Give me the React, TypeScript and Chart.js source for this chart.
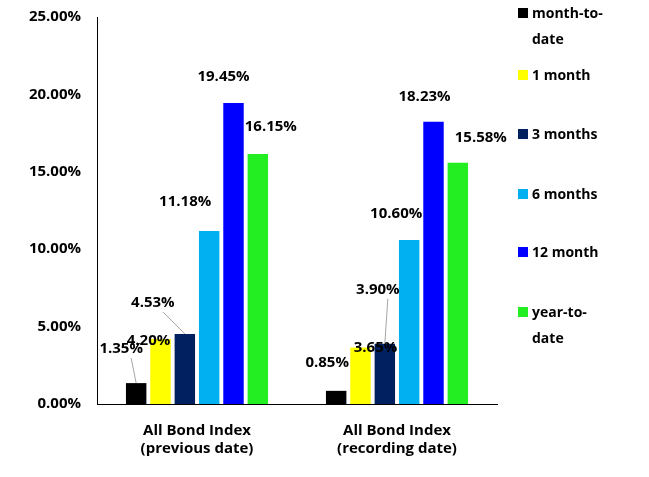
import { useEffect, useRef } from "react";
import { Chart, registerables } from "chart.js";

Chart.register(...registerables);

const categories = [
  ["All Bond Index", "(previous date)"],
  ["All Bond Index", "(recording date)"],
];
const seriesNames = ["month-to-date", "1 month", "3 months", "6 months", "12 month", "year-to-date"];
const seriesLegend = [["month-to-", "date"], ["1 month"], ["3 months"], ["6 months"], ["12 month"], ["year-to-", "date"]];
const seriesValues = [
  [1.35, 0.85],
  [4.2, 3.65],
  [4.53, 3.9],
  [11.18, 10.6],
  [19.45, 18.23],
  [16.15, 15.58],
];
const colors = ["#000000", "#ffff00", "#002060", "#00b0f0", "#0000ff", "#22ee22"];
const legendTops = [0, 62, 121, 181, 239, 299];

// label offsets from bar top centre [dx, dy, leader]
const labelOffsets: [number, number, boolean][][] = [
  [[-15, -34, true], [-9, -28, false]],
  [[-12, 2, false], [15, 0, false]],
  [[-32, -31, true], [-7, -54, true]],
  [[-24, -29, false], [-13, -26, false]],
  [[-10, -26, false], [-9, -25, false]],
  [[13, -27, false], [23, -25, false]],
];

const FONT = "'Open Sans', sans-serif";

const labelPlugin = {
  id: "barLabels",
  afterDatasetsDraw(chart: any) {
    const ctx = chart.ctx;
    ctx.save();
    ctx.font = `bold 15px ${FONT}`;
    ctx.textAlign = "center";
    ctx.textBaseline = "middle";
    chart.data.datasets.forEach((ds: any, i: number) => {
      chart.getDatasetMeta(i).data.forEach((bar: any, j: number) => {
        const [dx, dy, leader] = labelOffsets[i][j];
        const x = bar.x + dx;
        const y = bar.y + dy;
        if (leader) {
          ctx.strokeStyle = "#a6a6a6";
          ctx.lineWidth = 1;
          ctx.beginPath();
          ctx.moveTo(x + 10, y + 9);
          ctx.lineTo(bar.x, bar.y);
          ctx.stroke();
        }
        ctx.fillStyle = "#000";
        ctx.fillText(ds.data[j].toFixed(2) + "%", x, y);
      });
    });
    ctx.restore();
  },
};

export default function App() {
  const ref = useRef<HTMLCanvasElement | null>(null);

  useEffect(() => {
    if (!ref.current) return;
    const chart = new Chart(ref.current, {
      type: "bar",
      data: {
        labels: categories,
        datasets: seriesNames.map((name, i) => ({
          label: name,
          data: seriesValues[i],
          backgroundColor: colors[i],
          categoryPercentage: 0.73,
          barPercentage: 0.84,
        })),
      },
      options: {
        animation: false,
        responsive: false,
        layout: { padding: { top: 10, right: 152, left: 0, bottom: 9 } },
        plugins: { legend: { display: false }, tooltip: { enabled: false } },
        scales: {
          x: {
            grid: { display: false },
            border: { color: "#000" },
            ticks: { color: "#000", font: { family: FONT, weight: "bold", size: 15 }, padding: 10 },
          },
          y: {
            min: 0,
            max: 25,
            afterFit: (s: any) => {
              s.width = 97;
            },
            grid: { display: false },
            border: { color: "#000" },
            ticks: {
              stepSize: 5,
              color: "#000",
              padding: 8,
              font: { family: FONT, weight: "bold", size: 15 },
              callback: (v: any) => Number(v).toFixed(2) + "%",
            },
          },
        },
      },
      plugins: [labelPlugin],
    });
    return () => chart.destroy();
  }, []);

  return (
    <div style={{ position: "fixed", left: 0, top: 0, width: 649, height: 477, background: "#fff" }}>
      <canvas ref={ref} width={649} height={477} />
      {seriesLegend.map((lines, i) => (
        <div
          key={i}
          style={{
            position: "absolute",
            left: 518,
            top: legendTops[i],
            fontFamily: FONT,
            fontWeight: "bold",
            fontSize: 14,
            lineHeight: "26px",
            color: "#000",
            display: "flex",
          }}
        >
          <div style={{ width: 10, height: 10, background: colors[i], marginTop: 8, marginRight: 4 }} />
          <div>
            {lines.map((l, k) => (
              <div key={k}>{l}</div>
            ))}
          </div>
        </div>
      ))}
    </div>
  );
}
